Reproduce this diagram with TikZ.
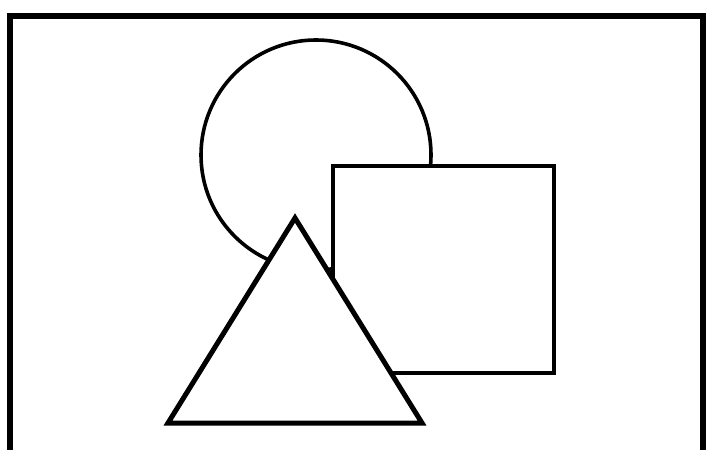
\documentclass[tikz,border=0pt]{standalone}
\usetikzlibrary{shadows}
\begin{document}
\begin{tikzpicture}[x=1pt,y=1pt,
  shapeline/.style={draw=black,fill=white,line join=miter,
    drop shadow={shadow xshift=1.5pt,shadow yshift=-1.5pt,fill=black!25,opacity=0.6}}]
\useasboundingbox (0,0) rectangle (708,449);
\fill[white] (0,0) rectangle (708,449);
% frame (open at the bottom)
\draw[line width=6pt,line join=miter] (10,-5) -- (10,432.5) -- (703,432.5) -- (703,-5);
% circle
\node[shapeline,circle,line width=3.6pt,minimum size=230pt,inner sep=0pt] (circ) at (316,294) {};
% square
\node[shapeline,rectangle,line width=4.2pt,minimum width=221pt,minimum height=207pt,inner sep=0pt] (sq) at (443.5,179.5) {};
% triangle
\coordinate (apex) at (295,231);
\coordinate (bl) at (168,26);
\coordinate (br) at (422,26);
\path[shapeline,line width=5pt] (apex) -- (br) -- (bl) -- cycle;
\end{tikzpicture}
\end{document}
